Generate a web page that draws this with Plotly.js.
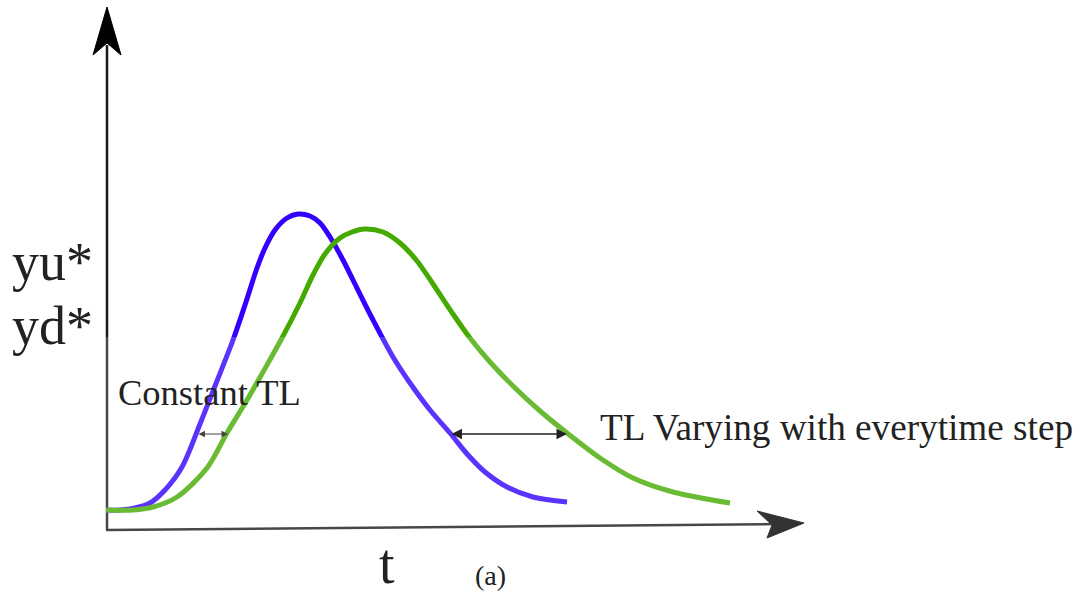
<!DOCTYPE html>
<html>
<head>
<meta charset="utf-8">
<script src="https://cdn.plot.ly/plotly-3.0.1.min.js"></script>
<style>
  html, body { margin: 0; padding: 0; background: #ffffff; }
  #chart { width: 1079px; height: 595px; }
</style>
</head>
<body>
<div id="chart"></div>
<script>
// Upstream response (blue) traced along t, in canvas units
const blueT = [106, 120, 135, 150, 165, 182, 200, 215, 233, 245, 257, 265, 275, 287, 298, 310, 320, 330, 343, 353, 372, 393, 410, 430, 450, 468, 485, 507, 533, 567];
const blueY = [510, 510, 508, 503, 490, 467, 424, 386, 340, 305, 268, 248, 230, 218, 214, 216, 223, 237, 260, 280, 318, 357, 383, 410, 433, 455, 472, 487, 497, 502];

// Downstream response (green), lagged and flattened
const greenT = [106, 133, 153, 177, 207, 227, 247, 263, 282, 300, 313, 325, 340, 352, 365, 383, 400, 417, 433, 453, 470, 490, 513, 540, 567, 600, 633, 673, 730];
const greenY = [510, 510, 507, 497, 468, 433, 400, 372, 338, 303, 275, 254, 238, 232, 229, 232, 243, 261, 284, 314, 338, 362, 386, 411, 433, 458, 478, 492, 503];

// Axis geometry: origin, ends and arrowheads
const axisOrigin = [107, 530];
const yAxisTop = [107, 45];
const xAxisEnd = [780, 524];
const yArrowX = [107, 93, 107, 121, 107];
const yArrowY = [7, 55, 43, 55, 7];
const xArrowX = [804, 757, 772, 767, 804];
const xArrowY = [523, 511, 525, 538, 523];

// Time-lag markers: [from t, to t, level]
const lagConstant = [197, 228, 434];
const lagVarying = [450, 567, 434];

// Text labels
const yLabels = ['yu*', 'yd*'];
const xLabel = 't';
const panelLabel = '(a)';
const constantLabel = 'Constant TL';
const varyingLabel = 'TL Varying with everytime step';

const BLUE = '#3300ff';
const GREEN = '#44aa00';
const INK = '#1a1a1a';
const SERIF = '"Liberation Serif", "DejaVu Serif", serif';

const traces = [
  { x: [axisOrigin[0], yAxisTop[0]], y: [axisOrigin[1], yAxisTop[1]], mode: 'lines',
    line: { color: INK, width: 2.5 }, hoverinfo: 'skip' },
  { x: [axisOrigin[0] - 1, xAxisEnd[0]], y: [axisOrigin[1], xAxisEnd[1]], mode: 'lines',
    line: { color: INK, width: 2.5 }, hoverinfo: 'skip' },
  { x: yArrowX, y: yArrowY, mode: 'lines', fill: 'toself', fillcolor: '#000000',
    line: { color: '#000000', width: 1 }, hoverinfo: 'skip' },
  { x: xArrowX, y: xArrowY, mode: 'lines', fill: 'toself', fillcolor: '#000000',
    line: { color: '#000000', width: 1 }, hoverinfo: 'skip' },
  { x: blueT, y: blueY, mode: 'lines', name: 'yu',
    line: { color: BLUE, width: 5, shape: 'spline', smoothing: 0.9 }, hoverinfo: 'skip' },
  { x: greenT, y: greenY, mode: 'lines', name: 'yd',
    line: { color: GREEN, width: 5, shape: 'spline', smoothing: 0.9 }, hoverinfo: 'skip' }
];

function lagArrow(lag, color, width, size) {
  return {
    x: lag[1], y: lag[2], ax: lag[0], ay: lag[2],
    xref: 'x', yref: 'y', axref: 'x', ayref: 'y',
    text: '', showarrow: true, arrowside: 'end+start',
    arrowhead: 2, arrowsize: size, arrowwidth: width, arrowcolor: color,
    standoff: 0, startstandoff: 0
  };
}

function label(text, x, y, size, xanchor, extra) {
  return Object.assign({
    x: x, y: y, xref: 'x', yref: 'y', text: text, showarrow: false,
    xanchor: xanchor, yanchor: 'middle',
    font: { family: SERIF, size: size, color: '#222222' }
  }, extra || {});
}

const layout = {
  width: 1079, height: 595,
  margin: { l: 0, r: 0, t: 0, b: 0, pad: 0 },
  paper_bgcolor: '#ffffff', plot_bgcolor: '#ffffff',
  showlegend: false,
  xaxis: { range: [0, 1079], visible: false, fixedrange: true },
  yaxis: { range: [595, 0], visible: false, fixedrange: true },
  shapes: [
    // light wash over the lower band of the figure
    { type: 'rect', xref: 'x', yref: 'y', x0: 0, x1: 1079, y0: 337, y1: 595,
      fillcolor: 'rgba(255,255,255,0.2)', line: { width: 0 }, layer: 'above' }
  ],
  annotations: [
    label(yLabels[0], 10, 262, 54, 'left'),
    label(yLabels[1], 10, 326, 54, 'left'),
    label(xLabel, 387, 564, 56, 'center', { height: 52, valign: 'middle' }),
    label(panelLabel, 490, 575, 28, 'center'),
    label(constantLabel, 116, 392, 36.5, 'left'),
    label(varyingLabel, 598, 427, 37.2, 'left'),
    lagArrow(lagConstant, '#444444', 1, 1.3),
    lagArrow(lagVarying, '#222222', 1.5, 1.4)
  ]
};

Plotly.newPlot('chart', traces, layout, { staticPlot: true, displayModeBar: false });
</script>
</body>
</html>
